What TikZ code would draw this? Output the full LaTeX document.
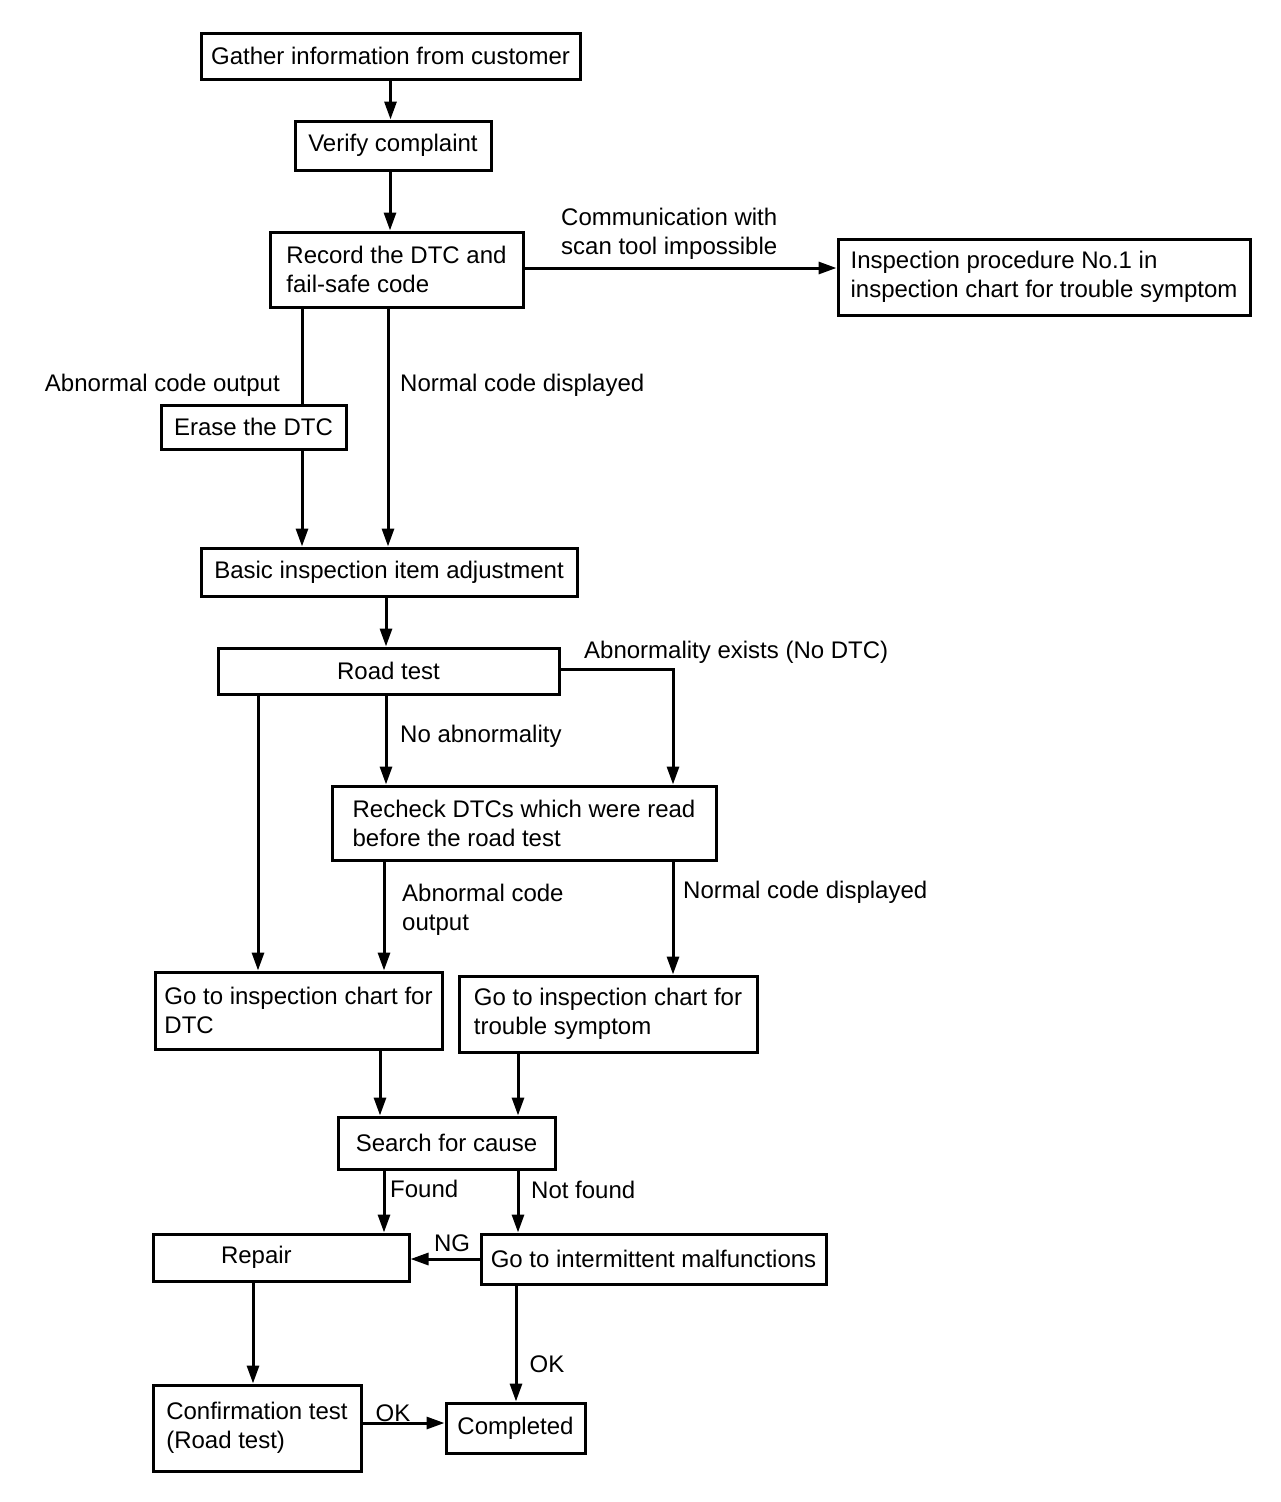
\documentclass[tikz,border=0pt]{standalone}
\usepackage{fontspec}
\setmainfont{Liberation Sans}
\usetikzlibrary{arrows.meta}
\begin{document}
\begin{tikzpicture}[x=1pt,y=-1pt,
  box/.style={draw,line width=3pt,rectangle,inner ysep=0pt,inner xsep=0pt,align=left,font=\fontsize{24}{29}\selectfont},
  lbl/.style={inner sep=0pt,font=\fontsize{24}{29}\selectfont,align=left},
  arr/.style={line width=3pt,-{Triangle[length=18pt,width=12pt]}},
  ln/.style={line width=3pt}]
\useasboundingbox (0,0) rectangle (1280,1502);
\fill[white] (0,0) rectangle (1280,1502);
% boxes
\node[box,minimum width=379pt,minimum height=46pt] (gather) at (390.5,56) {Gather information from customer};
\node[box,minimum width=196pt,minimum height=49pt] (verify) at (393,145.5) {Verify complaint};
\node[box,minimum width=253pt,minimum height=75pt] (record) at (396.5,269.5) {Record the DTC and\\fail-safe code};
\node[box,minimum width=412pt,minimum height=76pt] (insp) at (1044,277) {Inspection procedure No.1 in\\inspection chart for trouble symptom};
\node[box,minimum width=185pt,minimum height=44pt] (erase) at (253.5,427) {Erase the DTC};
\node[box,minimum width=376pt,minimum height=48pt] (basic) at (389,572) {Basic inspection item adjustment};
\node[box,minimum width=341pt,minimum height=46pt] (road) at (388.5,671) {Road test};
\node[box,minimum width=384pt,minimum height=74pt] (recheck) at (524,823) {Recheck DTCs which were read\\before the road test};
\node[box,minimum width=287pt,minimum height=77pt] (godtc) at (298.5,1010.5) {Go to inspection chart for\\DTC};
\node[box,minimum width=298pt,minimum height=76pt] (gotrb) at (608,1014) {Go to inspection chart for\\trouble symptom};
\node[box,minimum width=217pt,minimum height=52pt] (search) at (446.5,1143) {Search for cause};
\node[box,minimum width=256pt,minimum height=47pt,inner xsep=68pt,text width=120pt] (repair) at (281,1257.5) {Repair};
\node[box,minimum width=345pt,minimum height=50pt] (interm) at (653.5,1259) {Go to intermittent malfunctions};
\node[box,minimum width=208pt,minimum height=86pt] (confirm) at (257,1428) {Confirmation test\\(Road test)};
\node[box,minimum width=139pt,minimum height=50pt] (completed) at (515.5,1428) {Completed};
% labels
\node[lbl,anchor=west] (lcomm) at (561,234) {Communication with\\scan tool impossible};
\node[lbl,anchor=east] (labn1) at (280,385) {Abnormal code output};
\node[lbl,anchor=west] (lnorm1) at (400,385) {Normal code displayed};
\node[lbl,anchor=west] (lnoab) at (400,736) {No abnormality};
\node[lbl,anchor=west] (labex) at (584,652) {Abnormality exists (No DTC)};
\node[lbl,anchor=west] (labn2) at (402,909.5) {Abnormal code\\output};
\node[lbl,anchor=west] (lnorm2) at (683,892) {Normal code displayed};
\node[lbl,anchor=west] (lfound) at (390,1189) {Found};
\node[lbl,anchor=west] (lnotf) at (531,1190) {Not found};
\node[lbl] (lng) at (452,1243) {NG};
\node[lbl] (lok1) at (547,1364) {OK};
\node[lbl] (lok2) at (393,1413) {OK};
% connectors
\draw[arr] (gather.south) -- (gather.south |- verify.north);
\draw[arr] ([xshift=-3pt]verify.south) -- ([xshift=-3pt]verify.south |- record.north);
\draw[arr] ([yshift=1.5pt]record.east) -- ([yshift=1.5pt]record.east -| insp.west);
\draw[ln] ([xshift=-94.5pt]record.south) -- ([xshift=-94.5pt]record.south |- erase.north);
\draw[arr] ([xshift=48.5pt]erase.south) -- ([xshift=48.5pt]erase.south |- basic.north);
\draw[arr] ([xshift=-8.5pt]record.south) -- ([xshift=-8.5pt]record.south |- basic.north);
\draw[arr] ([xshift=-3pt]basic.south) -- ([xshift=-3pt]basic.south |- road.north);
\draw[arr] ([xshift=-2.5pt]road.south) -- ([xshift=-2.5pt]road.south |- recheck.north);
\draw[arr] ([yshift=2pt]road.east) -| ([xshift=149pt]recheck.north);
\draw[arr] ([xshift=-130.5pt]road.south) -- ([xshift=-130.5pt]road.south |- godtc.north);
\draw[arr] ([xshift=-140pt]recheck.south) -- ([xshift=-140pt]recheck.south |- godtc.north);
\draw[arr] ([xshift=149pt]recheck.south) -- ([xshift=149pt]recheck.south |- gotrb.north);
\draw[arr] ([xshift=81.5pt]godtc.south) -- ([xshift=81.5pt]godtc.south |- search.north);
\draw[arr] ([xshift=-90pt]gotrb.south) -- ([xshift=-90pt]gotrb.south |- search.north);
\draw[arr] ([xshift=-62.5pt]search.south) -- ([xshift=-62.5pt]search.south |- repair.north);
\draw[arr] ([xshift=71.5pt]search.south) -- ([xshift=71.5pt]search.south |- interm.north);
\draw[arr] (interm.west) -- (interm.west -| repair.east);
\draw[arr] ([xshift=-28pt]repair.south) -- ([xshift=-28pt]repair.south |- confirm.north);
\draw[arr] ([xshift=-137.5pt]interm.south) -- ([xshift=-137.5pt]interm.south |- completed.north);
\draw[arr] ([yshift=5pt]confirm.east) -- ([yshift=5pt]confirm.east -| completed.west);
\end{tikzpicture}
\end{document}
